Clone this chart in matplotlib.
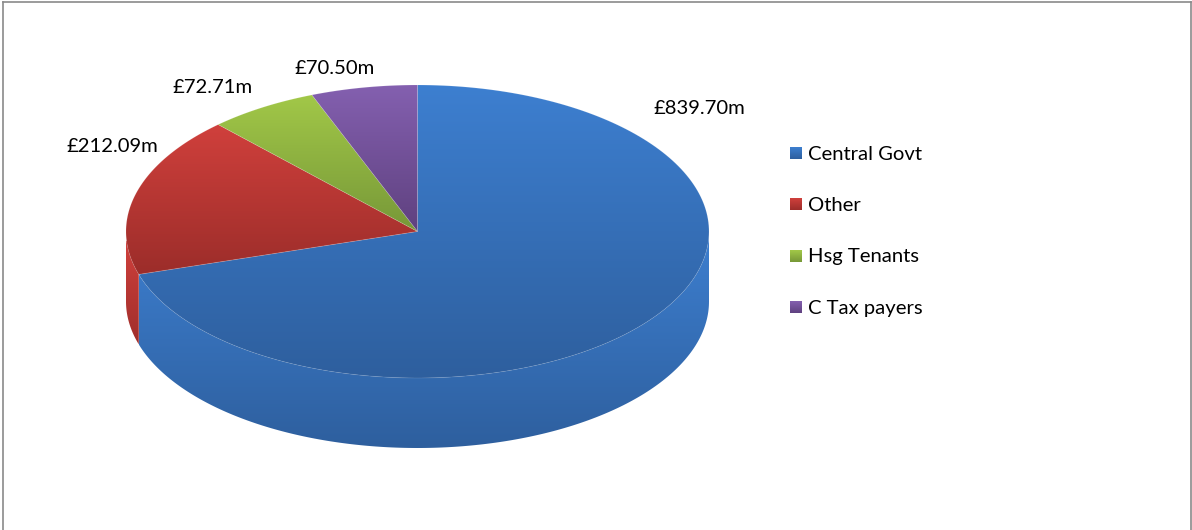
import numpy as np
import matplotlib
matplotlib.use('Agg')
import matplotlib.pyplot as plt
from matplotlib.colors import to_rgb
from matplotlib.patches import Polygon

plt.rcParams['font.family'] = ['Lato', 'DejaVu Sans']

names = ['Central Govt', 'Other', 'Hsg Tenants', 'C Tax payers']
values = [839.70, 212.09, 72.71, 70.50]
labels = ['£839.70m', '£212.09m', '£72.71m', '£70.50m']
light = ['#3d7fd0', '#d0403c', '#a2c848', '#8460b0']
dark = ['#2e5f9e', '#9c2d2a', '#779838', '#5f417f']
label_pos = [(699, 109), (112.5, 147), (213, 87.5), (335, 69)]

# pie geometry, in pixels
cx, cy = 417.5, 231.5
rx, ry = 291.5, 146.5
depth = 70

fig = plt.figure(figsize=(11.92, 5.30), dpi=100)
ax = fig.add_axes([0, 0, 1, 1])


def rim(a0, a1, dy=0):
    # points round the ellipse, angle clockwise from the top
    t = np.radians(np.linspace(a0, a1, 200))
    return np.column_stack([cx + rx * np.sin(t), cy - ry * np.cos(t) + dy])


def shaded(verts, c0, c1, y0=None, y1=None):
    # polygon filled with a vertical gradient
    verts = np.asarray(verts)
    x0, x1 = verts[:, 0].min(), verts[:, 0].max()
    y0 = verts[:, 1].min() if y0 is None else y0
    y1 = verts[:, 1].max() if y1 is None else y1
    f = np.linspace(0, 1, 256)[:, None, None]
    img = (1 - f) * np.array(to_rgb(c0)) + f * np.array(to_rgb(c1))
    im = ax.imshow(img, extent=[x0, x1, y1, y0], aspect='auto', interpolation='bilinear')
    clip = Polygon(verts, closed=True, transform=ax.transData)
    im.set_clip_path(clip)


share = np.array(values) / sum(values) * 360
edges = np.concatenate([[0], np.cumsum(share)])

# sides first: the red bit on the far left, then blue in front of it
red_side = np.vstack([rim(edges[1], 270), rim(270, edges[1], depth)])
shaded(red_side, light[1], dark[1], cy + 10, cy + depth + 50)
blue_side = np.vstack([rim(90, edges[1]), rim(edges[1], 90, depth)])
shaded(blue_side, light[0], dark[0], cy, cy + ry + depth)

# top faces
for i in range(len(values)):
    pts = np.vstack([[cx, cy], rim(edges[i], edges[i + 1])])
    shaded(pts, light[i], dark[i])
    ax.add_patch(Polygon(pts, closed=True, fill=False, ec=(1, 1, 1, 0.12), lw=0.6))

for txt, (x, y) in zip(labels, label_pos):
    ax.text(x, y, txt, fontsize=14.6, color='black', ha='center', va='center')

# legend
for i, name in enumerate(names):
    y = 153 + i * 51.4
    sq = [(790, y - 6), (802, y - 6), (802, y + 6), (790, y + 6)]
    shaded(sq, light[i], dark[i])
    ax.text(808, y + 1, name, fontsize=14.6, color='black', ha='left', va='center')

# chart frame
ax.plot([2.5, 2.5], [530, 1.5], color='#8a8a8a', lw=1.2)
ax.plot([2.5, 1191], [1.5, 1.5], color='#8a8a8a', lw=1.2)
ax.plot([1191, 1191], [1.5, 530], color='#8a8a8a', lw=1.2)

ax.set_xlim(0, 1192)
ax.set_ylim(530, 0)
ax.axis('off')
fig.savefig('out.png', dpi=100)
